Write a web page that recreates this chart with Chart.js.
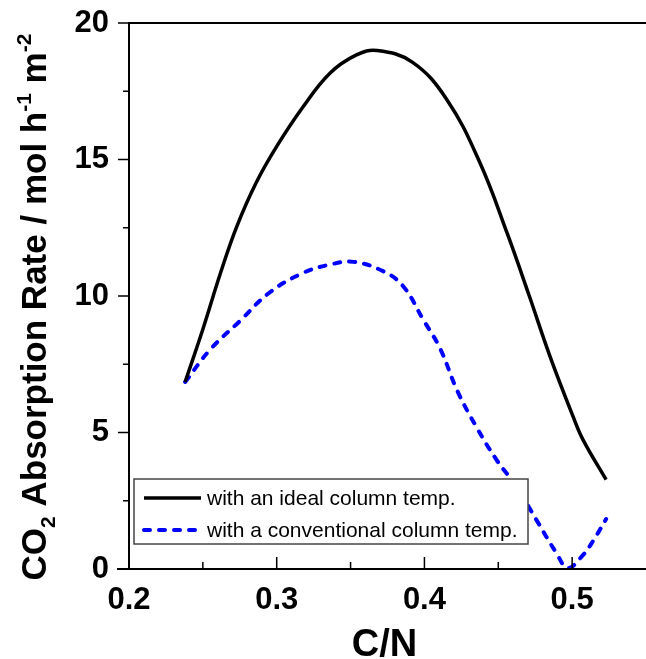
<!DOCTYPE html>
<html>
<head>
<meta charset="utf-8">
<style>
  html, body { margin: 0; padding: 0; background: #fff; }
  #wrap { position: relative; width: 646px; height: 659px; }
</style>
</head>
<body>
<div id="wrap">
  <canvas id="co2Chart"></canvas>
</div>

<script src="https://cdnjs.cloudflare.com/ajax/libs/Chart.js/4.4.1/chart.umd.js"></script>
<script>
  // values
  const cnIdeal   = [0.238, 0.250, 0.262, 0.273, 0.286, 0.300, 0.318, 0.336, 0.354, 0.368, 0.392, 0.415, 0.4375, 0.456, 0.471, 0.485, 0.5006, 0.5074, 0.523];
  const rateIdeal = [6.85, 8.78, 10.85, 12.55, 14.14, 15.48, 16.94, 18.16, 18.83, 18.99, 18.56, 17.21, 14.89, 12.30, 10.00, 7.79, 5.59, 4.73, 3.27];

  const cnConv   = [0.238, 0.255, 0.275, 0.295, 0.318, 0.336, 0.352, 0.372, 0.3856, 0.3991, 0.4104, 0.4225, 0.4352, 0.4488, 0.4623, 0.4758, 0.4894, 0.497, 0.507, 0.515, 0.523];
  const rateConv = [6.85, 8.04, 9.08, 10.12, 10.85, 11.15, 11.25, 10.91, 10.36, 9.14, 8.10, 6.50, 5.20, 4.00, 3.02, 1.80, 0.58, 0.04, 0.49, 1.10, 1.83];

  const xTicks = [0.2, 0.3, 0.4, 0.5];
  const xMinor = [0.25, 0.35, 0.45];
  const yTicks = [0, 5, 10, 15, 20];
  const yMinor = [2.5, 7.5, 12.5, 17.5];

  const seriesNames = ['with an ideal column temp.', 'with a conventional column temp.'];

  const FONT = "'Liberation Sans', Arial, Helvetica, sans-serif";
  const toXY = (xs, ys) => xs.map((x, i) => ({ x: x, y: ys[i] }));

  // axes box, inward x ticks, outward y ticks, titles and legend
  const frame = {
    id: 'frame',
    afterDraw(chart) {
      const c = chart.ctx;
      const a = chart.chartArea;
      const xs = chart.scales.x, ys = chart.scales.y;
      c.save();
      c.strokeStyle = '#000';
      c.lineWidth = 2;
      c.beginPath();
      c.moveTo(a.left - 12, a.bottom); c.lineTo(a.right, a.bottom);
      c.moveTo(a.left, a.bottom); c.lineTo(a.left, a.top);
      c.lineTo(a.right, a.top);
      c.stroke();

      c.lineWidth = 1.5;
      c.beginPath();
      xTicks.forEach(v => { const p = xs.getPixelForValue(v); c.moveTo(p, a.bottom); c.lineTo(p, a.bottom - 12); });
      xMinor.forEach(v => { const p = xs.getPixelForValue(v); c.moveTo(p, a.bottom); c.lineTo(p, a.bottom - 7); });
      yTicks.forEach(v => { const p = ys.getPixelForValue(v); c.moveTo(a.left, p); c.lineTo(a.left - 11, p); });
      yMinor.forEach(v => { const p = ys.getPixelForValue(v); c.moveTo(a.left, p); c.lineTo(a.left - 6, p); });
      c.stroke();

      // x title
      c.fillStyle = '#000';
      c.font = 'bold 38px ' + FONT;
      c.textAlign = 'center';
      c.textBaseline = 'alphabetic';
      c.fillText('C/N', (a.left + a.right) / 2 - 3, 656);

      // y title with sub/superscripts
      const big = 'bold 35px ' + FONT, small = 'bold 21px ' + FONT;
      const parts = [
        ['CO', big, 0], ['2', small, 9], [' Absorption Rate / mol h', big, 0],
        ['-1', small, -15], [' m', big, 0], ['-2', small, -15]
      ];
      let total = 0;
      parts.forEach(p => { c.font = p[1]; total += c.measureText(p[0]).width; });
      c.translate(46, 307);
      c.rotate(-Math.PI / 2);
      c.textAlign = 'left';
      let pos = -total / 2;
      parts.forEach(p => {
        c.font = p[1];
        c.fillText(p[0], pos, p[2]);
        pos += c.measureText(p[0]).width;
      });
      c.setTransform(1, 0, 0, 1, 0, 0);

      // legend box
      const lx = 134, ly = 479, lw = 394, lh = 65;
      c.fillStyle = '#fff';
      c.fillRect(lx, ly, lw, lh);
      c.strokeStyle = '#444';
      c.lineWidth = 1.5;
      c.strokeRect(lx, ly, lw, lh);
      const rows = [ly + 19, ly + 51];
      chart.data.datasets.forEach((ds, i) => {
        c.strokeStyle = ds.borderColor;
        c.lineWidth = ds.borderWidth;
        c.lineCap = ds.borderCapStyle || 'butt';
        c.setLineDash(ds.borderDash || []);
        c.beginPath();
        c.moveTo(lx + 10, rows[i]);
        c.lineTo(lx + 67, rows[i]);
        c.stroke();
        c.setLineDash([]);
        c.fillStyle = '#000';
        c.font = '21px ' + FONT;
        c.textBaseline = 'middle';
        c.fillText(ds.label, lx + 73, rows[i] + 1);
      });
      c.restore();
    }
  };

  new Chart(document.getElementById('co2Chart'), {
    type: 'line',
    data: {
      datasets: [
        {
          label: seriesNames[0],
          data: toXY(cnIdeal, rateIdeal),
          borderColor: '#000000',
          borderWidth: 3.5,
          pointRadius: 0,
          tension: 0.4,
          fill: false
        },
        {
          label: seriesNames[1],
          data: toXY(cnConv, rateConv),
          borderColor: '#0000ff',
          borderWidth: 4,
          borderDash: [6, 9],
          borderCapStyle: 'round',
          pointRadius: 0,
          tension: 0.4,
          fill: false
        }
      ]
    },
    options: {
      responsive: true,
      maintainAspectRatio: false,
      animation: false,
      layout: { padding: { top: 23, right: 0, left: 0, bottom: 0 } },
      scales: {
        x: {
          type: 'linear',
          min: 0.2,
          max: 0.55,
          grid: { display: false },
          border: { display: false },
          afterFit: s => { s.height = 90; s.paddingLeft = 0; s.paddingRight = 0; },
          afterBuildTicks: s => { s.ticks = xTicks.map(v => ({ value: v })); },
          ticks: {
            padding: 5,
            color: '#000',
            font: { family: FONT, size: 31, weight: 'bold' },
            callback: v => v.toFixed(1)
          }
        },
        y: {
          min: 0,
          max: 20,
          grid: { display: false },
          border: { display: false },
          afterFit: s => { s.width = 129; s.paddingTop = 0; s.paddingBottom = 0; },
          afterBuildTicks: s => { s.ticks = yTicks.map(v => ({ value: v })); },
          ticks: {
            padding: 12,
            color: '#000',
            font: { family: FONT, size: 31, weight: 'bold' }
          }
        }
      },
      plugins: {
        legend: { display: false },
        tooltip: { enabled: false }
      }
    },
    plugins: [frame]
  });
</script>
</body>
</html>
